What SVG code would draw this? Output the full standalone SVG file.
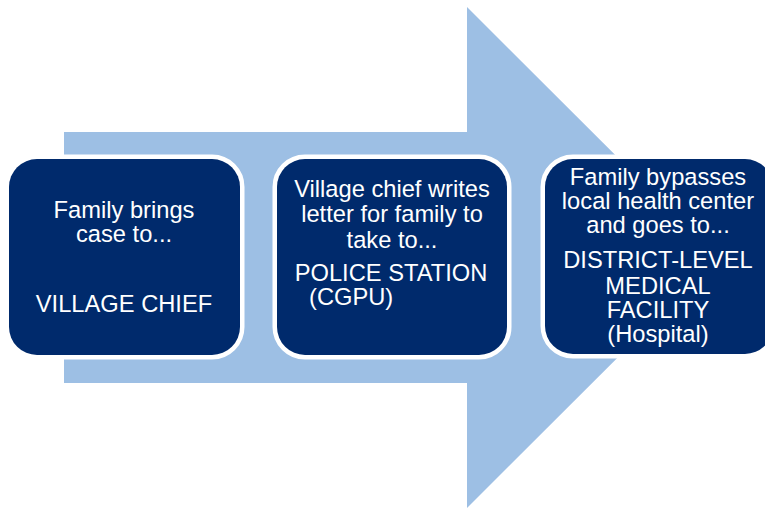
<svg xmlns="http://www.w3.org/2000/svg" width="765" height="508" viewBox="0 0 765 508">
<style>
.box{fill:#002A6C;stroke:#FFFFFF;stroke-width:9;paint-order:stroke}
.t{font-family:"Liberation Sans",Arial,sans-serif;font-size:23.7px;fill:#FFFFFF;text-anchor:middle}
</style>
<rect width="765" height="508" fill="#FFFFFF"/>
<g id="arrow">
<polygon points="64,132 467,132 467,7 718,257.5 467,508 467,383 64,383" fill="#9DBFE4"/>
</g>
<g id="node1">
<rect class="box" x="9" y="159" width="231" height="196" rx="28"/>
<text class="t" x="124" y="218">Family brings</text>
<text class="t" x="124" y="242">case to...</text>
<text class="t" x="124" y="312">VILLAGE CHIEF</text>
</g>
<g id="node2">
<rect class="box" x="277" y="159" width="230" height="196" rx="28"/>
<text class="t" x="392" y="197">Village chief writes</text>
<text class="t" x="392" y="222">letter for family to</text>
<text class="t" x="392" y="248">take to...</text>
<text class="t" x="391" y="281">POLICE STATION</text>
<text class="t" x="309" y="305" style="text-anchor:start">(CGPU)</text>
</g>
<g id="node3">
<rect class="box" x="545" y="159" width="228" height="195" rx="28"/>
<text class="t" x="658" y="185">Family bypasses</text>
<text class="t" x="658" y="209">local health center</text>
<text class="t" x="658" y="233">and goes to...</text>
<text class="t" x="658" y="268">DISTRICT-LEVEL</text>
<text class="t" x="658" y="294">MEDICAL</text>
<text class="t" x="658" y="318">FACILITY</text>
<text class="t" x="658" y="342">(Hospital)</text>
</g>
<g id="connectors"></g>
</svg>
